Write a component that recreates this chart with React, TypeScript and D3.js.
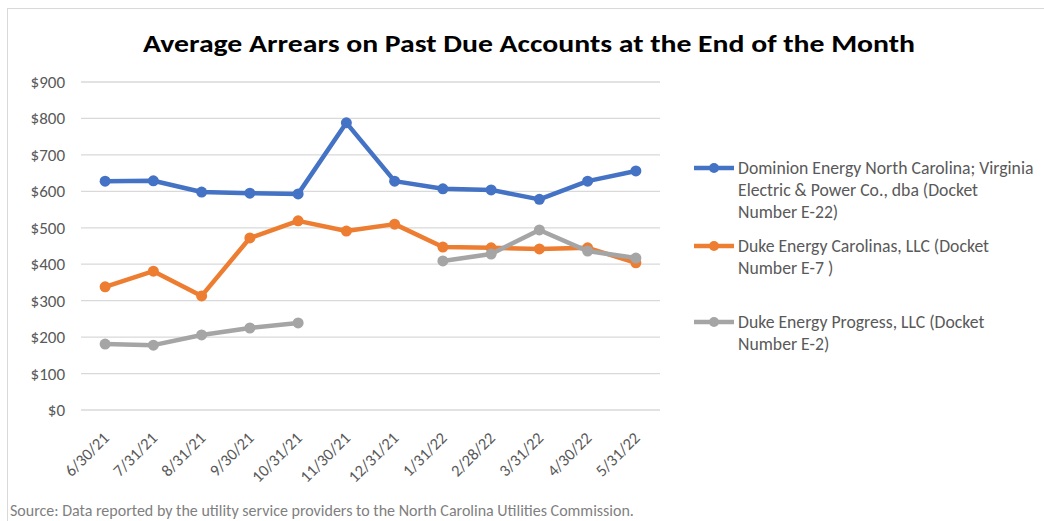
import React from "react";
import * as d3 from "d3";

const categories = ["6/30/21","7/31/21","8/31/21","9/30/21","10/31/21","11/30/21","12/31/21","1/31/22","2/28/22","3/31/22","4/30/22","5/31/22"];
const dominion: (number|null)[] = [628,629,598,595,593,788,628,607,604,578,628,656];
const dukeCarolinas: (number|null)[] = [338,381,313,472,519,491,510,447,445,442,445,404];
const dukeProgress: (number|null)[] = [181,178,206,225,239,null,null,409,428,494,436,417];
const yTicks = [0,100,200,300,400,500,600,700,800,900];
const seriesNames = [
  ["Dominion Energy North Carolina; Virginia","Electric & Power Co., dba (Docket","Number E-22)"],
  ["Duke Energy Carolinas, LLC (Docket","Number E-7 )"],
  ["Duke Energy Progress, LLC (Docket","Number E-2)"],
];
const colors = ["#4472C4","#ED7D31","#A5A5A5"];
const allSeries = [dominion, dukeCarolinas, dukeProgress];

export default function App() {
  const W = 1044, H = 521;
  const x = d3.scaleBand().domain(categories).range([81, 660]);
  const y = d3.scaleLinear().domain([0, 900]).range([410, 82]);
  const cx = (c: string) => (x(c) as number) + x.bandwidth() / 2;
  const line = d3.line<[string, number|null]>()
    .defined(d => d[1] !== null)
    .x(d => cx(d[0]))
    .y(d => y(d[1] as number));
  const font = "Calibri, Carlito, 'Open Sans', sans-serif";
  const legendY = [168, 246, 322];
  return (
    <svg width={W} height={H} style={{position:"absolute", left:0, top:0}} fontFamily={font}>
      <rect x={0} y={0} width={W} height={H} fill="#fff" />
      <rect x={7.5} y={8.5} width={W} height={H} fill="none" stroke="#d9d9d9" strokeWidth={1} />
      <text x={529} y={52} textAnchor="middle" fontSize={25} fontWeight="bold" fill="#000" textLength={772} lengthAdjust="spacingAndGlyphs">Average Arrears on Past Due Accounts at the End of the Month</text>
      {yTicks.map(t => (
        <g key={t}>
          <line x1={81} x2={660} y1={y(t)} y2={y(t)} stroke="#d9d9d9" strokeWidth={1.3} />
          <text x={65} y={y(t) + 6} textAnchor="end" fontSize={17} fill="#595959">{"$" + t}</text>
        </g>
      ))}
      {categories.map(c => (
        <text key={c} transform={`translate(${cx(c) + 5},${439}) rotate(-45)`} textAnchor="end" fontSize={16.5} fill="#595959">{c}</text>
      ))}
      {allSeries.map((s, i) => {
        const data = categories.map((c, j) => [c, s[j]] as [string, number|null]);
        return (
          <g key={i}>
            <path d={line(data) || ""} fill="none" stroke={colors[i]} strokeWidth={4.5} strokeLinejoin="round" strokeLinecap="round" />
            {data.filter(d => d[1] !== null).map(d => (
              <circle key={d[0]} cx={cx(d[0])} cy={y(d[1] as number)} r={5.5} fill={colors[i]} />
            ))}
          </g>
        );
      })}
      {seriesNames.map((lines, i) => (
        <g key={i}>
          <line x1={694} x2={734} y1={legendY[i]} y2={legendY[i]} stroke={colors[i]} strokeWidth={4.5} />
          <circle cx={714} cy={legendY[i]} r={5} fill={colors[i]} />
          {lines.map((l, k) => (
            <text key={k} x={738} y={legendY[i] + 6 + k * 22} fontSize={17.7} fill="#595959">{l}</text>
          ))}
        </g>
      ))}
      <text x={10} y={516} fontSize={16} fill="#7f7f7f">Source: Data reported by the utility service providers to the North Carolina Utilities Commission.</text>
    </svg>
  );
}
